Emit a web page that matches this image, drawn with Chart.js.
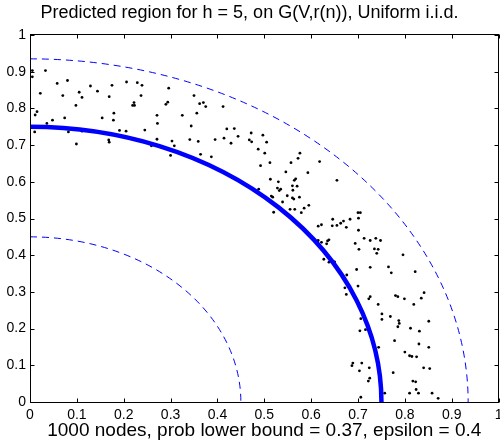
<!DOCTYPE html>
<html>
<head>
<meta charset="utf-8">
<script src="https://cdn.jsdelivr.net/npm/chart.js@4/dist/chart.umd.min.js"></script>
<style>
  html, body { margin: 0; padding: 0; background: #fff; }
  #wrap { width: 500px; height: 440px; }
</style>
</head>
<body>
<div id="wrap"><canvas id="regionChart" width="500" height="440"></canvas></div>
<script>
// node positions
const nodeX = [
  0.005, 0.005, 0.033, 0.058, 0.080, 0.022, 0.070, 0.105, 0.111, 0.098,
  0.129, 0.144, 0.175, 0.169, 0.206, 0.229, 0.239, 0.237, 0.222, 0.223,
  0.219, 0.015, 0.011, 0.048, 0.036, 0.074, 0.154, 0.179, 0.178, 0.010,
  0.082, 0.111, 0.099, 0.168, 0.169, 0.191, 0.205, 0.245,
  0.296, 0.294, 0.290, 0.350, 0.362, 0.370, 0.375, 0.356, 0.412, 0.325,
  0.271, 0.272, 0.344, 0.271, 0.303, 0.308, 0.259, 0.300, 0.341, 0.359,
  0.395, 0.420, 0.436, 0.414, 0.444, 0.429, 0.472, 0.468, 0.473, 0.497,
  0.487, 0.364, 0.387,
  0.505, 0.501, 0.492, 0.512, 0.576, 0.572, 0.557, 0.618, 0.546, 0.593,
  0.513, 0.530, 0.567, 0.564, 0.655, 0.560, 0.570, 0.528, 0.535, 0.532,
  0.561, 0.549, 0.575, 0.560, 0.563, 0.515, 0.518, 0.488, 0.539, 0.595,
  0.585, 0.555, 0.565, 0.520, 0.579, 0.615, 0.615,
  0.622, 0.646, 0.645, 0.655, 0.663, 0.669, 0.675, 0.683, 0.700, 0.705,
  0.701, 0.701, 0.694, 0.713, 0.726, 0.738, 0.748, 0.735, 0.743, 0.740,
  0.702, 0.796, 0.622, 0.633, 0.635, 0.638, 0.627, 0.638, 0.650, 0.726,
  0.765, 0.771, 0.822, 0.697, 0.676, 0.672, 0.675, 0.700, 0.726, 0.723,
  0.780, 0.785, 0.799, 0.841, 0.835,
  0.743, 0.819, 0.751, 0.751, 0.769, 0.787, 0.788, 0.785, 0.851, 0.706,
  0.704, 0.716, 0.812, 0.831, 0.778, 0.830, 0.851, 0.744, 0.800, 0.810,
  0.815, 0.825, 0.689, 0.687, 0.708, 0.703, 0.724, 0.725, 0.722, 0.775,
  0.840, 0.853, 0.817, 0.823, 0.824, 0.810, 0.829, 0.858, 0.871, 0.757,
  0.706
];
const nodeY = [
  0.903, 0.886, 0.903, 0.868, 0.876, 0.841, 0.835, 0.844, 0.830, 0.808,
  0.861, 0.847, 0.863, 0.832, 0.872, 0.870, 0.863, 0.835, 0.816, 0.808,
  0.808, 0.791, 0.782, 0.768, 0.759, 0.774, 0.774, 0.787, 0.768, 0.736,
  0.736, 0.738, 0.703, 0.714, 0.708, 0.740, 0.738, 0.741,
  0.855, 0.817, 0.811, 0.835, 0.813, 0.816, 0.805, 0.787, 0.805, 0.781,
  0.781, 0.759, 0.752, 0.716, 0.711, 0.698, 0.698, 0.672, 0.715, 0.710,
  0.715, 0.744, 0.745, 0.719, 0.724, 0.705, 0.733, 0.714, 0.709, 0.727,
  0.689, 0.675, 0.668,
  0.708, 0.678, 0.644, 0.652, 0.678, 0.664, 0.652, 0.655, 0.627, 0.625,
  0.607, 0.600, 0.608, 0.604, 0.604, 0.589, 0.588, 0.583, 0.580, 0.576,
  0.577, 0.562, 0.558, 0.556, 0.553, 0.561, 0.558, 0.580, 0.545, 0.536,
  0.528, 0.525, 0.525, 0.517, 0.516, 0.479, 0.440,
  0.483, 0.498, 0.480, 0.481, 0.487, 0.493, 0.476, 0.498, 0.516, 0.516,
  0.501, 0.468, 0.432, 0.446, 0.440, 0.446, 0.440, 0.417, 0.416, 0.405,
  0.416, 0.401, 0.435, 0.431, 0.439, 0.442, 0.389, 0.381, 0.382, 0.367,
  0.368, 0.352, 0.355, 0.361, 0.346, 0.311, 0.293, 0.316, 0.287, 0.281,
  0.290, 0.287, 0.281, 0.298, 0.283,
  0.266, 0.266, 0.240, 0.225, 0.233, 0.222, 0.214, 0.205, 0.220, 0.227,
  0.194, 0.197, 0.201, 0.193, 0.167, 0.158, 0.149, 0.149, 0.136, 0.126,
  0.124, 0.123, 0.106, 0.099, 0.106, 0.085, 0.093, 0.065, 0.057, 0.080,
  0.093, 0.091, 0.057, 0.055, 0.034, 0.024, 0.024, 0.024, 0.010, 0.024,
  0.013
];

// quarter circles: inner bound, predicted region, outer bound
const arcRadii = [0.45, 0.75, 0.935];

const tickValues = [0, 0.1, 0.2, 0.3, 0.4, 0.5, 0.6, 0.7, 0.8, 0.9, 1];
const tickLabels = ['0', '0.1', '0.2', '0.3', '0.4', '0.5', '0.6', '0.7', '0.8', '0.9', '1'];

const titleText = 'Predicted region for h = 5, on G(V,r(n)), Uniform i.i.d.';
const xLabelText = '1000 nodes, prob lower bound = 0.37, epsilon = 0.4';

const FONT = "'Liberation Sans', Arial, Helvetica, sans-serif";

const arcStyle = [
  { width: 1, dash: [7, 5] },
  { width: 4.5, dash: [] },
  { width: 1, dash: [7, 5] }
];

// arcs, frame box and inward tick marks (matlab look)
const boxPlugin = {
  id: 'boxPlugin',
  afterDatasetsDraw(chart) {
    const { ctx, chartArea: a, scales: { x, y } } = chart;
    const x0 = x.getPixelForValue(0);
    const y0 = y.getPixelForValue(0);

    ctx.save();
    ctx.beginPath();
    ctx.rect(a.left, a.top, a.right - a.left, a.bottom - a.top);
    ctx.clip();
    arcRadii.forEach((r, i) => {
      const rx = x.getPixelForValue(r) - x0;
      const ry = y0 - y.getPixelForValue(r);
      ctx.beginPath();
      ctx.ellipse(x0, y0, rx, ry, 0, -Math.PI / 2, 0);
      ctx.strokeStyle = '#0000ff';
      ctx.lineWidth = arcStyle[i].width;
      ctx.setLineDash(arcStyle[i].dash);
      ctx.stroke();
    });
    ctx.restore();

    ctx.save();
    ctx.strokeStyle = '#000';
    ctx.lineWidth = 1;
    const L = Math.round(a.left) + 0.5, R = Math.round(a.right) - 0.5;
    const T = Math.round(a.top) - 0.5, B = Math.round(a.bottom) + 0.5;
    ctx.strokeRect(L, T, R - L, B - T);
    const tl = 4;
    ctx.beginPath();
    tickValues.forEach(v => {
      const px = Math.round(x.getPixelForValue(v)) + 0.5;
      ctx.moveTo(px, B); ctx.lineTo(px, B - tl);
      ctx.moveTo(px, T); ctx.lineTo(px, T + tl);
      const py = Math.round(y.getPixelForValue(v)) + 0.5;
      ctx.moveTo(L, py); ctx.lineTo(L + tl, py);
      ctx.moveTo(R, py); ctx.lineTo(R - tl, py);
    });
    ctx.stroke();
    ctx.restore();
  }
};

new Chart(document.getElementById('regionChart'), {
  type: 'scatter',
  data: {
    datasets: [{
      label: 'nodes',
      data: nodeX.map((v, i) => ({ x: v, y: nodeY[i] })),
      backgroundColor: '#000',
      borderWidth: 0,
      pointRadius: 1.4,
      pointHoverRadius: 1.4
    }]
  },
  options: {
    responsive: false,
    animation: false,
    layout: { padding: { left: 0, right: 1, top: 0, bottom: 0 } },
    plugins: {
      legend: { display: false },
      tooltip: { enabled: false },
      title: {
        display: true,
        text: titleText,
        color: '#000',
        font: { family: FONT, size: 18, weight: 'normal' },
        padding: { top: 2.7, bottom: 10.7 }
      }
    },
    scales: {
      x: {
        type: 'linear',
        min: 0, max: 1,
        afterBuildTicks: s => { s.ticks = tickValues.map(v => ({ value: v })); },
        afterFit: s => { s.height = 38; s.paddingLeft = 0; s.paddingRight = 0; },
        grid: { display: false, drawTicks: false },
        border: { display: false },
        ticks: {
          color: '#000',
          padding: 5,
          maxRotation: 0,
          autoSkip: false,
          font: { family: FONT, size: 14 },
          callback: (v, i) => tickLabels[i]
        },
        title: {
          display: true,
          text: xLabelText,
          color: '#000',
          font: { family: FONT, size: 19, lineHeight: 1 },
          padding: { top: 0, bottom: 0 }
        }
      },
      y: {
        type: 'linear',
        min: 0, max: 1,
        afterBuildTicks: s => { s.ticks = tickValues.map(v => ({ value: v })); },
        afterFit: s => { s.width = 30; s.paddingTop = 0; s.paddingBottom = 0; },
        grid: { display: false, drawTicks: false },
        border: { display: false },
        ticks: {
          color: '#000',
          padding: 4,
          autoSkip: false,
          font: { family: FONT, size: 14 },
          callback: (v, i) => tickLabels[i]
        }
      }
    }
  },
  plugins: [boxPlugin]
});
</script>
</body>
</html>
